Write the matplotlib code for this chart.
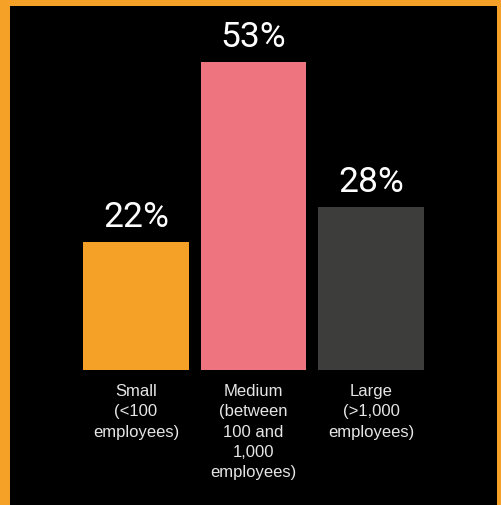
import matplotlib
matplotlib.use("Agg")
import matplotlib.pyplot as plt

# Datos del gráfico
categorias = ["Small\n(<100\nemployees)",
              "Medium\n(between\n100 and\n1,000\nemployees)",
              "Large\n(>1,000\nemployees)"]
valores = [22, 53, 28]
colores = ["#F5A027", "#EE7580", "#3D3D3B"]

plt.rcParams['font.family'] = ['Liberation Sans', 'DejaVu Sans']

W, H = 501, 505
fig = plt.figure(figsize=(W / 100, H / 100), dpi=100)
fig.patch.set_facecolor("#F5A027")

# fondo negro con el borde naranja (izq 10px, arriba 6px, der 4px)
fondo = fig.add_axes([10 / W, 0, (W - 10 - 4) / W, (H - 6) / H])
fondo.set_facecolor("black")
fondo.set_xticks([])
fondo.set_yticks([])
for s in fondo.spines.values():
    s.set_visible(False)

# ejes principales
x0, x1 = 77.25, 429.75
base = 370
alto = 60 * 5.81
ax = fig.add_axes([x0 / W, (H - base) / H, (x1 - x0) / W, alto / H])
ax.patch.set_alpha(0)
x = range(len(valores))
barras = ax.bar(x, valores, width=0.902, color=colores)
ax.set_xlim(-0.5, 2.5)
ax.set_ylim(0, 60)
ax.axis("off")

# etiquetas de porcentaje
for b, v in zip(barras, valores):
    ax.annotate(f"{v}%", (b.get_x() + b.get_width() / 2, v),
                xytext=(0, 6), textcoords="offset points",
                ha="center", va="bottom", color="white", fontsize=25.5,
                family=["Roboto", "DejaVu Sans"], fontweight="normal")

# etiquetas de categoría
for i, c in enumerate(categorias):
    ax.annotate(c, (i, 0), xytext=(0, -10), textcoords="offset points",
                ha="center", va="top", color="#E6E6E6", fontsize=12,
                linespacing=1.45)

fig.savefig("out.png", dpi=100, facecolor=fig.get_facecolor())
